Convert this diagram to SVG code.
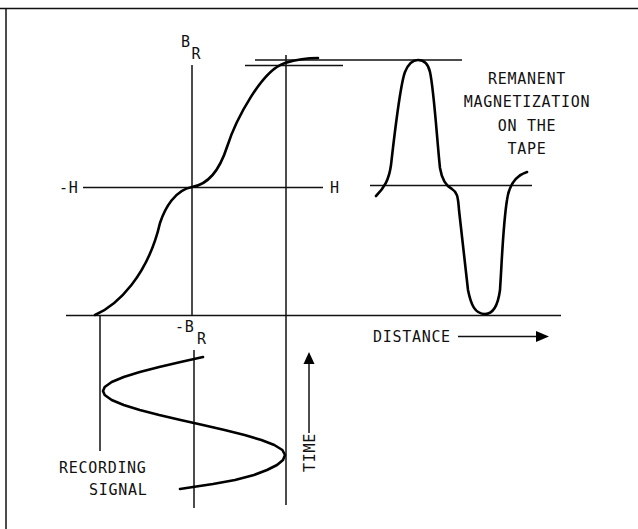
<svg xmlns="http://www.w3.org/2000/svg" width="638" height="529" viewBox="0 0 638 529">
<style>
.ln{stroke:#111;stroke-width:1.5;fill:none}
.cv{stroke:#000;stroke-width:2.6;fill:none;stroke-linecap:round;stroke-linejoin:round}
.t{font-family:"DejaVu Sans Mono","Liberation Mono",monospace;font-size:15px;fill:#111;letter-spacing:0.7px}
.m{text-anchor:middle}
</style>
<rect width="638" height="529" fill="#fff"/>
<g id="frame">
<path class="ln" d="M0,8.5 H638" stroke-width="2.2"/>
<path class="ln" d="M6,8 V529" stroke-width="2.2"/>
</g>
<g id="connectors">
<path class="ln" d="M192,65 V316"/>
<path class="ln" d="M194,350 V508"/>
<path class="ln" d="M286,55 V505"/>
<path class="ln" d="M100,316 V451"/>
<path class="ln" d="M83,187.5 H323"/>
<path class="ln" d="M66,315.5 H561"/>
<path class="ln" d="M255,60 H462"/>
<path class="ln" d="M245,65.5 H343"/>
<path class="ln" d="M370,185.5 H532"/>
<path class="ln" d="M458,336.5 H537"/>
<path d="M536,331 L549,336.5 L536,342 Z" fill="#000"/>
<path class="ln" d="M309,433 V362"/>
<path d="M303.5,364 L309,352 L314.5,364 Z" fill="#000"/>
</g>
<g id="hysteresis">
<path class="cv" d="M95,315 C118,305 148,275 160,223 C165,208 175,190 192,187 C205,185 218,175 227,147 C236,119 262,70 285,63 C295,60 305,58 318,58"/>
</g>
<g id="tape-curve">
<path class="cv" d="M376,196 C384,188 389,180 391,165 C395,130 400,85 405,72 C409,62 414,60 418,60 C424,60 428,63 430,72 C434,90 437,140 440,168 C442,180 446,186 452,189 C457,192 458,196 459,210 L468,290 C471,305 475,314 485,314 C494,314 498,305 500,290 C502,260 503,225 507,200 C509,185 515,176 527,172"/>
</g>
<g id="recording-signal">
<polyline class="cv" points="203,357 180.6,362 159.2,367 139.8,372 123.7,377 111.7,382 104.7,387 103,391 104.7,395 111.7,400 123.7,405 139.8,410 159.2,415 180.6,420 202.9,425 224.6,430 244.6,435 261.4,440 274.3,445 282.4,450 285,455 283,460 277,465 267,470 254,475 235,480 213,484 193,487 180,489"/>
</g>
<g id="labels">
<text class="t" x="181" y="47">B</text>
<text class="t" x="191.5" y="59">R</text>
<text class="t" x="59" y="192.5">-H</text>
<text class="t" x="330" y="192.5">H</text>
<text class="t" x="175" y="332">-B</text>
<text class="t" x="197" y="344">R</text>
<text class="t" x="373" y="342">DISTANCE</text>
<text class="t" x="59" y="473">RECORDING</text>
<text class="t" x="89" y="495">SIGNAL</text>
<text class="t" transform="translate(315,472) rotate(-90)">TIME</text>
</g>
<g id="remanent-label">
<text class="t m" x="527" y="84">REMANENT</text>
<text class="t m" x="527" y="107">MAGNETIZATION</text>
<text class="t m" x="527" y="131">ON THE</text>
<text class="t m" x="527" y="154">TAPE</text>
</g>
</svg>
